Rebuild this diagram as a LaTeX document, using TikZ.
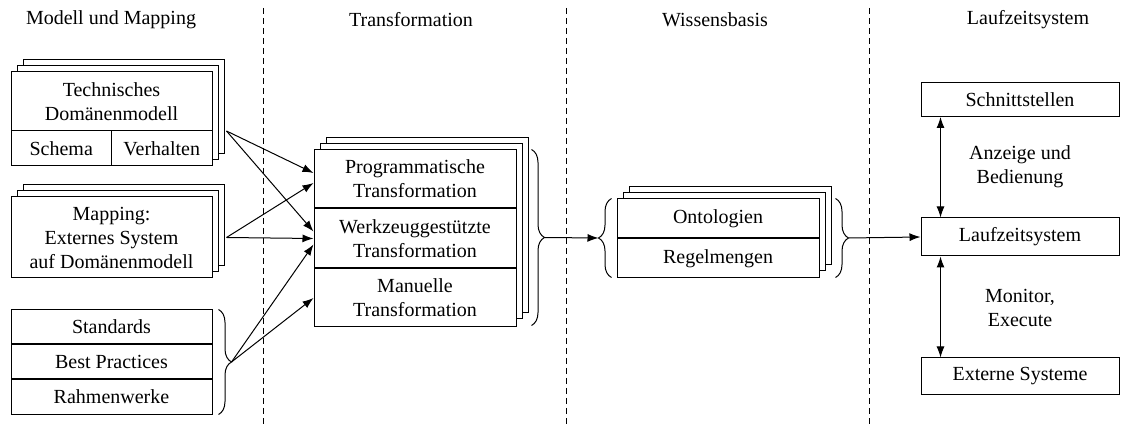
\documentclass[tikz,border=0pt]{standalone}
\usepackage{fontspec}
\setmainfont{Liberation Serif}
\usetikzlibrary{arrows.meta,positioning,shadows,decorations.pathreplacing}

\tikzset{
  feld/.style={draw, fill=white, line width=0.5pt, align=center, inner sep=0pt},
  stapel/.style={feld,
    copy shadow={shadow xshift=6pt, shadow yshift=6pt, fill=white, draw, line width=0.5pt},
    copy shadow={shadow xshift=3pt, shadow yshift=3pt, fill=white, draw, line width=0.5pt}},
  pfeil/.style={line width=0.5pt, -{Latex[length=5.5pt,width=4pt]}},
  doppelpfeil/.style={line width=0.5pt, {Latex[length=5.5pt,width=4pt]}-{Latex[length=5.5pt,width=4pt]}},
  klammer/.style={line width=0.5pt, decorate, decoration={brace, amplitude=6.5pt}},
  trenner/.style={thin, dash pattern=on 3pt off 2pt},
}

\begin{document}
\begin{tikzpicture}[x=0.5pt, y=-0.5pt]
        \useasboundingbox (0,0) rectangle (1122,426);

        % Spaltenkoepfe
        \node (kopf1) at (111,20) {Modell und Mapping};
        \node (kopf2) at (411,20) {Transformation};
        \node (kopf3) at (715,20) {Wissensbasis};
        \node (kopf4) at (1028,20) {Laufzeitsystem};
        \foreach \x in {263,566,869}
                \draw[trenner] (\x,8) -- (\x,426);

        % Modell und Mapping
        \node[stapel, minimum width=100.5pt, minimum height=47pt] (tdm) at (111.5,119) {};
        \node[feld, minimum width=100.5pt, minimum height=29.5pt, anchor=north] (tdmText) at (tdm.north) {Technisches\\Domänenmodell};
        \node[feld, minimum width=50.25pt, minimum height=17.5pt, anchor=south west] (schema) at (tdm.south west) {Schema};
        \node[feld, minimum width=50.25pt, minimum height=17.5pt, anchor=south east] (verhalten) at (tdm.south east) {Verhalten};

        \node[stapel, minimum width=100.5pt, minimum height=40.5pt] (mapping) at (111.5,237.5) {Mapping:\\Externes System\\auf Domänenmodell};

        \node[feld, minimum width=100.5pt, minimum height=17pt] (std) at (111.5,327) {Standards};
        \node[feld, minimum width=100.5pt, minimum height=17pt, below=0pt of std] (bp) {Best Practices};
        \node[feld, minimum width=100.5pt, minimum height=17pt, below=0pt of bp] (rw) {Rahmenwerke};
        \draw[klammer] ([xshift=3pt]std.north east) -- ([xshift=3pt]rw.south east);
        \coordinate (stdSpitze) at ([xshift=9.5pt]bp.east);

        % Transformation
        \node[stapel, minimum width=101pt, minimum height=87.5pt] (trafo) at (415,237.5) {};
        \node[feld, minimum width=101pt, minimum height=29pt, anchor=north] (prog) at (trafo.north) {Programmatische\\Transformation};
        \node[feld, minimum width=101pt, minimum height=29.5pt, below=0pt of prog] (werkz) {Werkzeuggestützte\\Transformation};
        \node[feld, minimum width=101pt, minimum height=29pt, below=0pt of werkz] (manuell) {Manuelle\\Transformation};
        \draw[klammer] ([xshift=7.5pt]trafo.north east) -- ([xshift=7.5pt]trafo.south east);
        \coordinate (trafoSpitze) at ([xshift=14pt]trafo.east);

        % Wissensbasis
        \node[stapel, minimum width=101pt, minimum height=39pt] (wissen) at (718,238) {};
        \node[feld, minimum width=101pt, minimum height=19.5pt, anchor=north] (onto) at (wissen.north) {Ontologien};
        \node[feld, minimum width=101pt, minimum height=19.5pt, below=0pt of onto] (regeln) {Regelmengen};
        \draw[klammer] ([xshift=-2.5pt]wissen.south west) -- ([xshift=-2.5pt]wissen.north west);
        \draw[klammer] ([xshift=8pt]wissen.north east) -- ([xshift=8pt]wissen.south east);
        \coordinate (wissenLinks) at ([xshift=-9pt]wissen.west);
        \coordinate (wissenRechts) at ([xshift=14.5pt]wissen.east);

        % Laufzeitsystem
        \node[feld, minimum width=99pt, minimum height=17pt] (schnitt) at (1020,99.5) {Schnittstellen};
        \node[feld, minimum width=99pt, minimum height=19pt] (lzs) at (1020,237) {Laufzeitsystem};
        \node[feld, minimum width=99pt, minimum height=18.5pt] (extern) at (1020,376.5) {Externe Systeme};
        \node[align=center] (anzeige) at (1020,167) {Anzeige und\\Bedienung};
        \node[align=center] (monitor) at (1020,308) {Monitor,\\Execute};

        % Verbindungen
        \draw[pfeil] ([xshift=7pt,yshift=-6pt]tdm.east) -- ([yshift=3pt]prog.west);
        \draw[pfeil] ([xshift=7pt,yshift=-6pt]tdm.east) -- ([yshift=3.5pt]werkz.west);
        \draw[pfeil] ([xshift=7pt]mapping.east) -- ([yshift=-2pt]prog.west);
        \draw[pfeil] ([xshift=7pt]mapping.east) -- (werkz.west);
        \draw[pfeil] (stdSpitze) -- ([yshift=-3pt]werkz.west);
        \draw[pfeil] (stdSpitze) -- (manuell.west);
        \draw[pfeil] (trafoSpitze) -- (wissenLinks);
        \draw[pfeil] (wissenRechts) -- (lzs.west);
        \draw[doppelpfeil] ([xshift=10pt]schnitt.south west) -- ([xshift=10pt]lzs.north west);
        \draw[doppelpfeil] ([xshift=10pt]lzs.south west) -- ([xshift=10pt]extern.north west);
\end{tikzpicture}
\end{document}
